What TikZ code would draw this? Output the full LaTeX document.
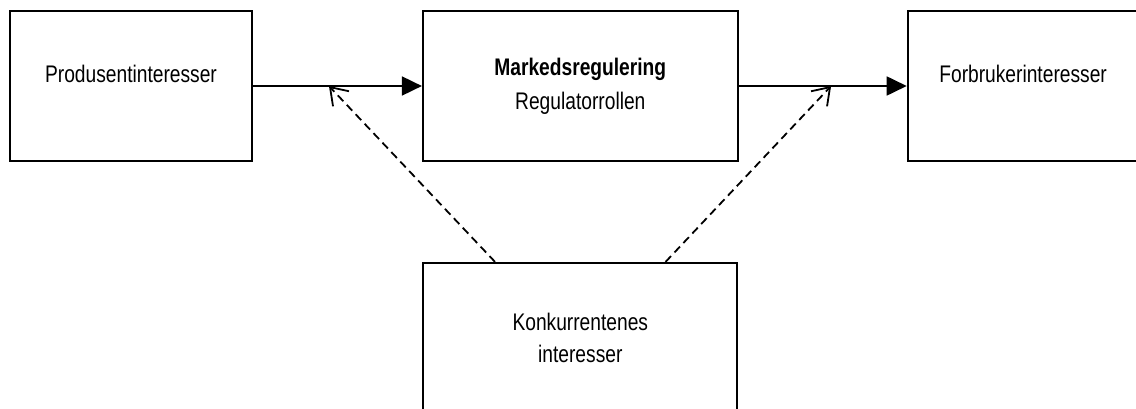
\documentclass[tikz,border=0pt]{standalone}
\usepackage{fontspec}
\setmainfont{Liberation Sans}[FakeStretch=0.8]
\usetikzlibrary{arrows.meta,positioning,calc}
\tikzset{
  box/.style={draw,line width=0.9pt,minimum width=121pt,minimum height=75pt,inner sep=2pt,align=center,font=\fontsize{12}{15}\selectfont},
  up/.style={text height=8pt,text depth=11pt},
  arr/.style={-{Triangle[length=10pt,width=9.5pt]},line width=0.9pt},
  darr/.style={-{Straight Barb[length=8pt,width=11pt]},line width=0.9pt,dash pattern=on 4pt off 2.5pt},
}
\begin{document}
\begin{tikzpicture}[x=0.5pt,y=0.5pt,node distance=50pt and 84.5pt]
\useasboundingbox (0,0) rectangle (1136,408);
\node[box,up] (prod) at (131,322) {Produsentinteresser};
\node[box,minimum width=157.5pt,right=of prod] (mark) {\textbf{Markedsregulering}\\[2pt]Regulatorrollen};
\node[box,up,minimum width=115.5pt,right=84pt of mark] (forb) {Forbrukerinteresser};
\node[box,minimum width=157pt,below=of mark] (konk) {Konkurrentenes\\[1pt]interesser};
\foreach \u/\v in {prod/mark,mark/forb} \draw[arr] (\u)--(\v);
\coordinate (m1) at ($(prod.east)!0.45!(mark.west)$);
\coordinate (m2) at ($(mark.east)!0.55!(forb.west)$);
\draw[darr] ($(konk.north west)!0.23!(konk.north east)$) -- (m1);
\draw[darr] ($(konk.north east)!0.23!(konk.north west)$) -- (m2);
\end{tikzpicture}
\end{document}
